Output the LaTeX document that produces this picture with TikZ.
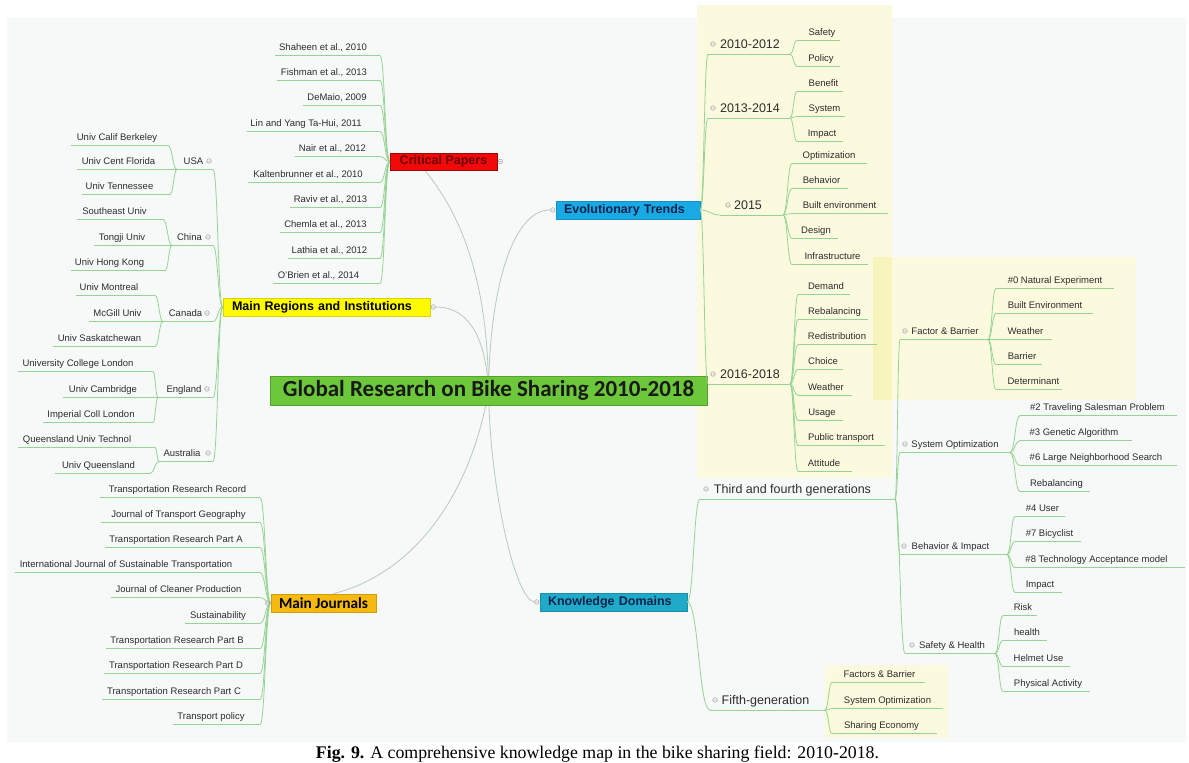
\documentclass[tikz,border=0pt]{standalone}
\usepackage{fontspec}
\setmainfont{Liberation Sans}
\newfontfamily\calib{Carlito}
\newfontfamily\capfont{Liberation Serif}
\usetikzlibrary{calc}
\definecolor{bgc}{RGB}{247,248,248}
\definecolor{ylw}{RGB}{251,249,222}
\definecolor{ylw2}{RGB}{248,245,188}
\definecolor{lk}{RGB}{150,212,150}
\definecolor{mlk}{RGB}{182,204,188}
\definecolor{tx}{RGB}{45,45,45}
\definecolor{cgreen}{RGB}{108,200,58}
\definecolor{cred}{RGB}{240,10,10}
\definecolor{cdred}{RGB}{110,0,0}
\definecolor{cyel}{RGB}{255,250,0}
\definecolor{corange}{RGB}{245,185,15}
\definecolor{cblue}{RGB}{25,170,230}
\definecolor{cteal}{RGB}{30,170,200}
\definecolor{cnavy}{RGB}{15,35,75}
\pgfdeclarelayer{bglayer}
\pgfdeclarelayer{lines}
\pgfsetlayers{bglayer,lines,main}
\tikzset{
  leaf/.style={font=\fontsize{9.5}{11}\selectfont, text=tx, inner sep=0, anchor=base},
  head/.style={font=\fontsize{12.5}{14}\selectfont, text=tx, inner sep=0, anchor=base},
  link/.style={draw=lk, line width=0.8pt},
  mlink/.style={draw=mlk, line width=0.8pt},
  mk/.style={draw=black!35, line width=0.5pt},
  topic/.style={font=\bfseries\fontsize{12.5}{14}\selectfont, inner ysep=0, minimum height=18, line width=0.5pt},
}
% leaf: name, cx, y, text, ul-left, ul-right
\newcommand\lf[6]{\node[leaf] (#1) at (#2,#3+3.4) {#4};
  \coordinate (#1-l) at (#5,#3+8.5); \coordinate (#1-r) at (#6,#3+8.5);
  \draw[link] (#1-l) -- (#1-r);}
\newcommand\hd[6]{\node[head] (#1) at (#2,#3+4.5) {#4};
  \coordinate (#1-l) at (#5,#3+10); \coordinate (#1-r) at (#6,#3+10);
  \draw[link] (#1-l) -- (#1-r);}
\newcommand\cx[2]{\draw[link] let \p1=(#1), \p2=(#2) in (\p1) .. controls ({(\x1+\x2)/2},\y1) and ({(\x1+\x2)/2},\y2) .. (\p2);}
\newcommand\mk[1]{\draw[mk] (#1) circle[radius=2.3] ++(-1.3,0) -- ++(2.6,0);}
\begin{document}
\begin{tikzpicture}[x=1pt,y=-1pt]
\begin{pgfonlayer}{bglayer}
\fill[white] (0,0) rectangle (1189,763);
\fill[bgc] (7,18) rectangle (1186,742);
\fill[ylw] (697,5) rectangle (892,478);
\fill[ylw] (873,257) rectangle (1136,400);
\fill[ylw2] (873,257) rectangle (892,400);
\fill[ylw] (825,665) rectangle (948,738);
\end{pgfonlayer}
\useasboundingbox (0,0) rectangle (1189,763);

% main topics
\node[topic, fill=cgreen, draw=cgreen!80!black, minimum width=437, minimum height=29, inner sep=0,
  font=\calib\bfseries\fontsize{23}{26}\selectfont, text=black!90] (C) at (488.5,390.5) {Global Research on Bike Sharing 2010-2018};
\node[topic, fill=cred, draw=cred!65!black, text=cdred, minimum width=107, inner xsep=0, minimum height=17] (CP) at (443.5,161.5) {Critical Papers};
\node[topic, fill=cyel, draw=cyel!85!black, text=black, text width=189, align=left, inner xsep=9] (MR) at (326.5,307) {Main Regions and Institutions};
\node[topic, fill=cblue, draw=cblue!85!black, text=cnavy, text width=128, align=left, inner xsep=8] (EV) at (628,210) {Evolutionary Trends};
\node[topic, fill=cteal, draw=cteal!85!black, text=cnavy, text width=131, align=left, inner xsep=8] (KD) at (613.5,602) {Knowledge Domains};
\node[topic, fill=corange, draw=corange!85!black, text=black, minimum width=105, inner xsep=0,
  font=\calib\bfseries\fontsize{15.3}{17}\selectfont] (MJ) at (323.5,603) {Main Journals};

% main curves
\begin{pgfonlayer}{lines}
\draw[mlink] ([xshift=35]CP.south west) .. controls (470,225) and (488,300) .. (C.center);
\draw[mlink] ([xshift=6]MR.east) .. controls (470,307) and (486,340) .. (C.center);
\draw[mlink] ([xshift=-6]EV.west) .. controls (515,210) and (490,280) .. (C.center);
\draw[mlink] ([xshift=-6]KD.west) .. controls (515,597) and (490,490) .. (C.center);
\draw[mlink] ([xshift=62]MJ.north west) .. controls (410,575) and (470,500) .. (C.center);
\end{pgfonlayer}
\mk{[xshift=3]CP.east}
\mk{[xshift=3]MR.east}
\mk{[xshift=-3]EV.west}
\mk{[xshift=-3]KD.west}

% Critical papers
\lf{cp1}{323}{47}{Shaheen et al., 2010}{275}{380}
\lf{cp2}{324}{72}{Fishman et al., 2013}{277}{380}
\lf{cp3}{337}{97}{DeMaio, 2009}{303}{380}
\lf{cp4}{306}{123}{Lin and Yang Ta-Hui, 2011}{247}{380}
\lf{cp5}{332.5}{148}{Nair et al., 2012}{295}{380}
\lf{cp6}{308}{174}{Kaltenbrunner et al., 2010}{248}{380}
\lf{cp7}{330.5}{199}{Raviv et al., 2013}{290}{380}
\lf{cp8}{325.5}{224}{Chemla et al., 2013}{280}{380}
\lf{cp9}{329.5}{250}{Lathia et al., 2012}{288}{380}
\lf{cp10}{318.5}{275}{O'Brien et al., 2014}{273}{380}
\foreach \i in {1,...,10}{\cx{CP.west}{cp\i-r}}

% Regions
\lf{usa}{193.5}{161}{USA}{177}{213}
\lf{chn}{189.5}{237}{China}{172}{213}
\lf{can}{185.5}{313}{Canada}{163}{213}
\lf{eng}{184}{389}{England}{158}{213}
\lf{aus}{182}{453}{Australia}{159}{213}
\foreach \nm in {usa,chn,can,eng,aus}{\cx{MR.west}{\nm-r}}
\mk{209,161} \mk{208,237} \mk{207,313} \mk{207,389} \mk{208,453}

\lf{u1}{117}{137}{Univ Calif Berkeley}{71}{168}
\lf{u2}{118.5}{161}{Univ Cent Florida}{77}{177}
\lf{u3}{119.5}{186}{Univ Tennessee}{82}{170}
\foreach \nm in {u1,u2,u3}{\cx{usa-l}{\nm-r}}
\lf{c1}{114.5}{211}{Southeast Univ}{77}{163}
\lf{c2}{122}{237}{Tongji Univ}{94}{172}
\lf{c3}{109.5}{262}{Univ Hong Kong}{71}{165}
\foreach \nm in {c1,c2,c3}{\cx{chn-l}{\nm-r}}
\lf{k1}{109}{287}{Univ Montreal}{76}{155}
\lf{k2}{117.5}{313}{McGill Univ}{89}{163}
\lf{k3}{99.5}{338}{Univ Saskatchewan}{53}{155}
\foreach \nm in {k1,k2,k3}{\cx{can-l}{\nm-r}}
\lf{e1}{78}{363}{University College London}{18}{153}
\lf{e2}{103}{389}{Univ Cambridge}{63}{158}
\lf{e3}{91}{414}{Imperial Coll London}{43}{153}
\foreach \nm in {e1,e2,e3}{\cx{eng-l}{\nm-r}}
\lf{a1}{77}{439}{Queensland Univ Technol}{18}{155}
\lf{a2}{98.5}{465}{Univ Queensland}{55}{150}
\foreach \nm in {a1,a2}{\cx{aus-l}{\nm-r}}

% Journals
\lf{j1}{177.5}{489}{Transportation Research Record}{100}{260}
\lf{j2}{178.5}{514}{Journal of Transport Geography}{101}{260}
\lf{j3}{176}{539}{Transportation Research Part A}{105}{260}
\lf{j4}{126}{564}{International Journal of Sustainable Transportation}{15}{260}
\lf{j5}{178.5}{589}{Journal of Cleaner Production}{111}{260}
\lf{j6}{218}{615}{Sustainability}{185}{260}
\lf{j7}{177}{640}{Transportation Research Part B}{106}{260}
\lf{j8}{176}{665}{Transportation Research Part D}{104}{260}
\lf{j9}{174}{691}{Transportation Research Part C}{102}{260}
\lf{j10}{211}{716}{Transport policy}{173}{260}
\foreach \i in {1,...,10}{\cx{MJ.west}{j\i-r}}
\mk{[xshift=-3]MJ.west}

% Evolutionary trends
\hd{y1}{750}{44}{2010-2012}{708}{790}
\hd{y2}{750}{108}{2013-2014}{708}{790}
\hd{y3}{748}{205}{2015}{720}{783}
\hd{y4}{750}{374}{2016-2018}{708}{790}
\foreach \nm in {y1,y2,y3,y4}{\cx{EV.east}{\nm-l}}
\mk{713,44} \mk{713,108} \mk{728,205} \mk{713,374}

\lf{s1}{822}{32}{Safety}{797}{840}
\lf{s2}{821}{58}{Policy}{797}{840}
\foreach \nm in {s1,s2}{\cx{y1-r}{\nm-l}}
\lf{t1}{823.5}{83}{Benefit}{797}{843}
\lf{t2}{824.5}{108}{System}{797}{845}
\lf{t3}{822}{133}{Impact}{797}{843}
\foreach \nm in {t1,t2,t3}{\cx{y2-r}{\nm-l}}
\lf{f1}{829}{155}{Optimization}{792}{867}
\lf{f2}{821.5}{180}{Behavior}{792}{848}
\lf{f3}{839.5}{205}{Built environment}{792}{888}
\lf{f4}{816}{230}{Design}{792}{838}
\lf{f5}{832.5}{256}{Infrastructure}{792}{868}
\foreach \nm in {f1,f2,f3,f4,f5}{\cx{y3-r}{\nm-l}}
\lf{g1}{826}{286}{Demand}{798}{850}
\lf{g2}{834.5}{311}{Rebalancing}{798}{868}
\lf{g3}{837}{336}{Redistribution}{798}{877}
\lf{g4}{823}{361}{Choice}{798}{843}
\lf{g5}{826}{387}{Weather}{798}{852}
\lf{g6}{822}{412}{Usage}{798}{843}
\lf{g7}{841}{437}{Public transport}{798}{885}
\lf{g8}{824}{463}{Attitude}{798}{852}
\foreach \nm in {g1,g2,g3,g4,g5,g6,g7,g8}{\cx{y4-r}{\nm-l}}

% Knowledge domains
\hd{th}{792.5}{489}{Third and fourth generations}{700}{895}
\hd{fi}{765.5}{700}{Fifth-generation}{710}{825}
\cx{KD.east}{th-l}
\cx{KD.east}{fi-l}
\mk{706,489} \mk{715,700}

\lf{v1}{879.5}{674}{Factors \& Barrier}{832}{925}
\lf{v2}{887.5}{700}{System Optimization}{832}{943}
\lf{v3}{881.5}{725}{Sharing Economy}{832}{937}
\foreach \nm in {v1,v2,v3}{\cx{fi-r}{\nm-l}}

\lf{fb}{945}{331}{Factor \& Barrier}{900}{988}
\lf{so}{955}{444}{System Optimization}{900}{1010}
\lf{bi}{950.5}{546}{Behavior \& Impact}{900}{1007}
\lf{sh}{952}{645}{Safety \& Health}{905}{995}
\foreach \nm in {fb,so,bi,sh}{\cx{th-r}{\nm-l}}
\mk{905,331} \mk{905,444} \mk{904,546} \mk{912,645}

\lf{b1}{1055}{280}{\#0 Natural Experiment}{996}{1114}
\lf{b2}{1045}{305}{Built Environment}{996}{1093}
\lf{b3}{1025.5}{331}{Weather}{996}{1052}
\lf{b4}{1022}{356}{Barrier}{996}{1042}
\lf{b5}{1033.5}{381}{Determinant}{996}{1062}
\foreach \nm in {b1,b2,b3,b4,b5}{\cx{fb-r}{\nm-l}}

\lf{o1}{1097.5}{407}{\#2 Traveling Salesman Problem}{1020}{1177}
\lf{o2}{1074}{432}{\#3 Genetic Algorithm}{1020}{1132}
\lf{o3}{1096}{457}{\#6 Large Neighborhood Search}{1020}{1177}
\lf{o4}{1056.5}{483}{Rebalancing}{1020}{1090}
\foreach \nm in {o1,o2,o3,o4}{\cx{so-r}{\nm-l}}

\lf{w1}{1042.5}{508}{\#4 User}{1015}{1065}
\lf{w2}{1049.5}{533}{\#7 Bicyclist}{1015}{1081}
\lf{w3}{1096.5}{559}{\#8 Technology Acceptance model}{1015}{1185}
\lf{w4}{1040}{584}{Impact}{1015}{1062}
\foreach \nm in {w1,w2,w3,w4}{\cx{bi-r}{\nm-l}}

\lf{h1}{1023}{607}{Risk}{1003}{1037}
\lf{h2}{1027}{632}{health}{1003}{1047}
\lf{h3}{1038.5}{658}{Helmet Use}{1003}{1070}
\lf{h4}{1048}{683}{Physical Activity}{1003}{1090}
\foreach \nm in {h1,h2,h3,h4}{\cx{sh-r}{\nm-l}}

% caption
\node[anchor=base, inner sep=0, font=\capfont\fontsize{17.8}{20}\selectfont] (cap) at (597.5,758)
  {\textbf{Fig. 9.} A comprehensive knowledge map in the bike sharing field: 2010-2018.};
\end{tikzpicture}
\end{document}
